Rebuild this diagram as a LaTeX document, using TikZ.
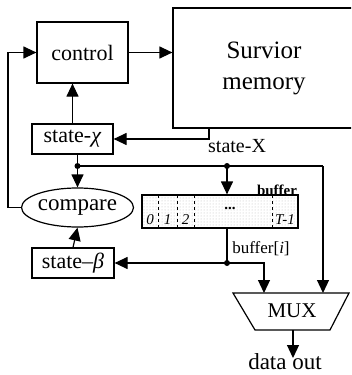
\documentclass[tikz,border=0pt]{standalone}
\usepackage{fontspec}
\setmainfont{Liberation Serif}
\usetikzlibrary{arrows.meta,shapes.geometric,patterns}
\begin{document}
\begin{tikzpicture}[x=1pt,y=-1pt,
 box/.style={draw,line width=1.2pt,inner sep=0pt},
 conn/.style={line width=1.2pt},
 arr/.style={conn,-{Triangle[length=13pt,width=12pt]}},
 dot/.style={circle,fill,inner sep=0pt,minimum size=6pt},
 fs/.style={font=\fontsize{#1}{#1}\selectfont},
 cell/.style={font=\fontsize{15}{17}\selectfont\itshape,inner sep=0pt}]
\useasboundingbox (0,0) rectangle (351,375);
\clip (0,0) rectangle (351,375);
% boxes
\node[box,minimum width=91pt,minimum height=61pt,fs=22] (control) at (82.5,52.5) {control};
\node[box,minimum width=182pt,minimum height=120pt,align=center,font=\fontsize{25}{31}\selectfont] (mem) at (264,68) {Survior\\memory};
\node[box,minimum width=81pt,minimum height=30pt,fs=22] (sx) at (72.5,139) {state-\textit{χ}};
\node[box,ellipse,minimum width=97pt,minimum height=39pt,inner sep=0pt,fs=23] (cmp) at (77.5,207.5) {compare};
\node[box,minimum width=82pt,minimum height=30pt,fs=22] (sb) at (73,263) {state–\textit{β}};
% buffer
\node[box,minimum width=156pt,minimum height=33pt,pattern=dots,pattern color=gray!55] (buf) at (220,211.5) {};
\foreach \x in {158,177,194,272} \draw[dashed,line width=0.8pt] (\x,195) -- (\x,228);
\node[cell] (c0) at (150,220) {0};
\node[cell] (c1) at (167.5,220) {1};
\node[cell] (c2) at (185.5,220) {2};
\node[cell,font=\fontsize{15}{17}\selectfont\bfseries] (cd) at (230,208) {...};
\node[cell] (cT) at (285,220) {T-1};
\node[inner sep=0pt,font=\fontsize{15}{17}\selectfont\bfseries] (bl) at (277,190) {buffer};
% MUX
\draw[line width=1.2pt] (233,293) -- (349,293) -- (330,330) -- (255,330) -- cycle;
\node[fs=21,inner sep=0pt] (mux) at (292,311) {MUX};
\coordinate (muxA) at (264,293);
\coordinate (muxB) at (323,293);
\coordinate (muxO) at (293,330);
\node[fs=23,inner sep=0pt] (out) at (285,362) {data out};
\coordinate (outT) at (293,358);
% connectors
\draw[arr] (control.east) -- (control.east -| mem.west);
\draw[arr] (sx.north) -- (sx.north |- control.south);
\coordinate (m1) at (209,128);
\draw[arr] (m1) |- (sx.east);
\node[fs=20,inner sep=0pt,anchor=west] (sxl) at (208,146) {state-X};
\coordinate (d1) at (77.5,166);
\coordinate (d2) at (227,166);
\coordinate (r1) at (323,166);
\draw[conn] (sx.south -| d1) -- (d1);
\draw[arr] (d1) -- (cmp.north);
\draw[conn] (d1) -- (r1);
\draw[arr] (r1) -- (muxB);
\draw[arr] (d2) -- (d2 |- buf.north);
\node[dot] (dot1) at (d1) {};
\node[dot] (dot2) at (d2) {};
\coordinate (lc) at (8,207.5);
\draw[arr] (cmp.west) -- (lc) |- (control.west);
\draw[arr] (sb.north) -- (cmp.south);
\coordinate (d3) at (227,263);
\draw[conn] (d2 |- buf.south) -- (d3);
\draw[arr] (d3) -- (sb.east);
\draw[arr] (d3) -| (muxA);
\node[dot] (dot3) at (d3) {};
\node[fs=17,inner sep=0pt] (bil) at (261,249) {buffer[\textit{i}]};
\draw[arr] (muxO) -- (outT);
\end{tikzpicture}
\end{document}
